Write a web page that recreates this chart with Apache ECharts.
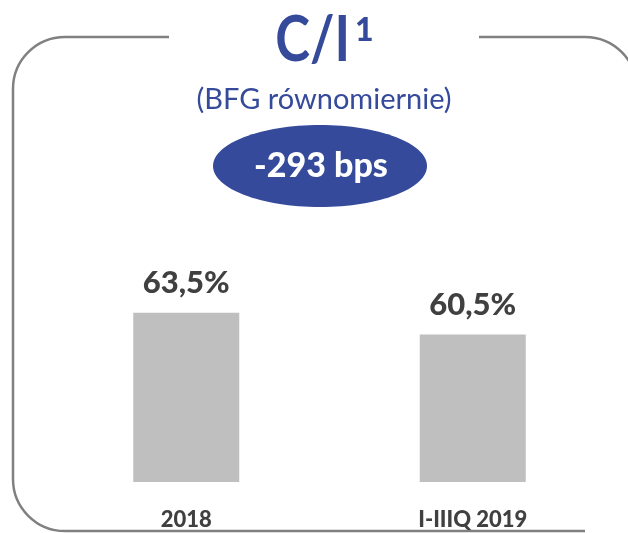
<!DOCTYPE html>
<html>
<head>
<meta charset="utf-8">
<script src="https://cdn.jsdelivr.net/npm/echarts@6/dist/echarts.min.js"></script>
<style>
  html, body { margin: 0; padding: 0; background: #fff; }
  #main { width: 628px; height: 533px; }
</style>
</head>
<body>
<div id="main"></div>
<script>
// dane
var categories = ["2018", "I-IIIQ 2019"];
var values = [63.5, 60.5];
var changeText = "-293 bps";

var blue = "#354A9A";
var grey = "#808080";
var fontName = "Lato, 'Open Sans', sans-serif";

var myChart = echarts.init(document.getElementById("main"));

// ramka z zaokraglonymi rogami (przerwa na tytul)
var frameStyle = { stroke: grey, lineWidth: 2.5, fill: null };
var L = 13, T = 37, R = 637, B = 531, rad = 52;
var frame = [
  { type: "line", shape: { x1: L + rad, y1: T, x2: 169, y2: T }, style: frameStyle },
  { type: "line", shape: { x1: 479, y1: T, x2: R - rad, y2: T }, style: frameStyle },
  { type: "arc", shape: { cx: L + rad, cy: T + rad, r: rad, startAngle: Math.PI, endAngle: Math.PI * 1.5, clockwise: true }, style: frameStyle },
  { type: "arc", shape: { cx: R - rad, cy: T + rad, r: rad, startAngle: -Math.PI / 2, endAngle: 0, clockwise: true }, style: frameStyle },
  { type: "line", shape: { x1: L, y1: T + rad, x2: L, y2: B - rad }, style: frameStyle },
  { type: "arc", shape: { cx: L + rad, cy: B - rad, r: rad, startAngle: Math.PI / 2, endAngle: Math.PI, clockwise: true }, style: frameStyle },
  { type: "line", shape: { x1: L + rad, y1: B, x2: R - rad, y2: B }, style: frameStyle }
];

var option = {
  animation: false,
  grid: { left: 43, right: 12, top: 266, bottom: 51 },
  xAxis: {
    type: "category",
    data: categories,
    axisLine: { show: false },
    axisTick: { show: false },
    axisLabel: {
      margin: 27,
      color: "#404040",
      fontFamily: fontName,
      fontWeight: 900,
      fontSize: 22
    }
  },
  yAxis: {
    type: "value",
    min: 40,
    max: 70,
    show: false,
    splitLine: { show: false }
  },
  series: [
    {
      type: "bar",
      data: values,
      barWidth: 106,
      itemStyle: { color: "#BFBFBF" },
      label: {
        show: true,
        position: "top",
        distance: 14,
        color: "#404040",
        fontFamily: fontName,
        fontWeight: 900,
        fontSize: 31,
        formatter: function(p) {
          return p.value.toFixed(1).replace(".", ",") + "%";
        }
      }
    }
  ],
  graphic: frame.concat([
    {
      type: "text",
      x: 350, y: 40,
      scaleX: 0.82,
      style: { text: "C/I", fill: blue, font: "bold 64px " + fontName, textAlign: "right", textVerticalAlign: "middle" }
    },
    {
      type: "text",
      x: 355, y: 31,
      style: { text: "1", fill: blue, font: "900 32px " + fontName, textAlign: "left", textVerticalAlign: "middle" }
    },
    {
      type: "text",
      x: 324, y: 100,
      style: { text: "(BFG równomiernie)", fill: blue, font: "29px " + fontName, textAlign: "center", textVerticalAlign: "middle" }
    },
    {
      type: "ellipse",
      shape: { cx: 320, cy: 166, rx: 107, ry: 41 },
      style: { fill: blue }
    },
    {
      type: "text",
      x: 321, y: 166,
      style: { text: changeText, fill: "#fff", font: "900 34px " + fontName, textAlign: "center", textVerticalAlign: "middle" }
    }
  ])
};

myChart.setOption(option);
</script>
</body>
</html>
